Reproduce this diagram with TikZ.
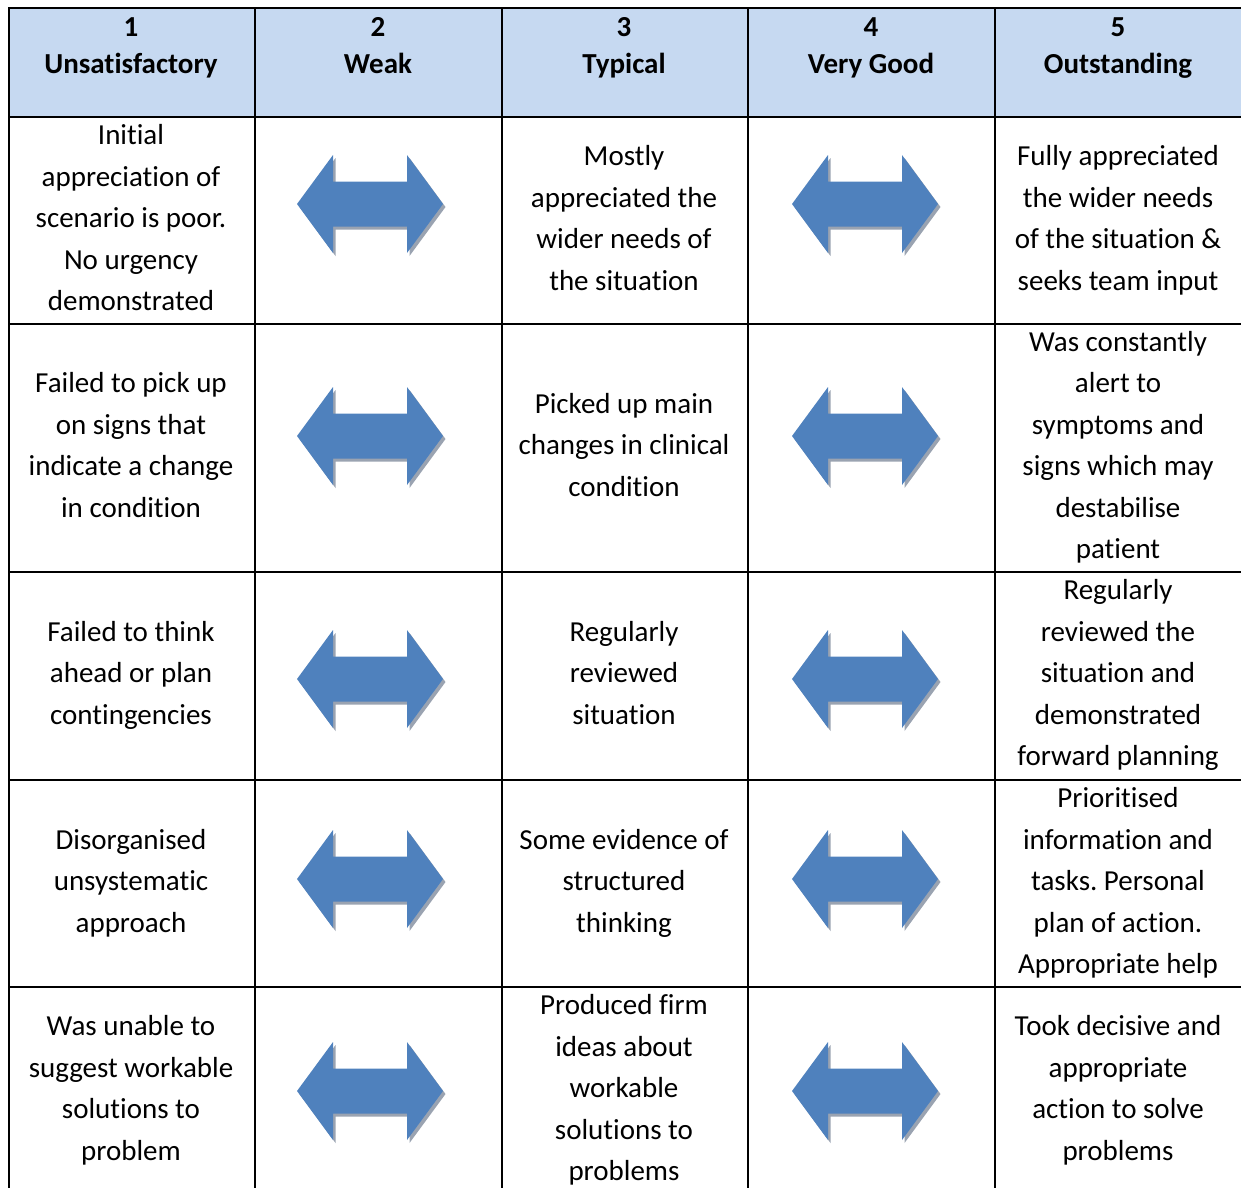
\documentclass[tikz,border=0pt]{standalone}
\usepackage{fontspec}
\setmainfont{Carlito}[Ligatures=NoCommon]
\frenchspacing
\definecolor{headblue}{HTML}{C6D9F1}
\definecolor{arrowblue}{HTML}{4F81BD}
\definecolor{arrowshade}{HTML}{9AA3B1}
\newcommand\cellfont{\fontsize{29}{41.5}\selectfont}
\newcommand\headfont{\fontsize{29}{37}\selectfont\bfseries}
\newcommand\dblarrowpath{(-73,0) -- (-37,-49) -- (-37,-22.5) -- (37,-22.5) -- (37,-49) -- (73,0) -- (37,49) -- (37,22.5) -- (-37,22.5) -- (-37,49) -- cycle}
\tikzset{
  grid line/.style={line width=1.9pt, black},
  cell/.style={align=center, font=\cellfont, text=black, inner sep=0pt,
    execute at begin node=\strut, execute at end node=\strut},
  headcell/.style={align=center, font=\headfont, text=black, inner sep=0pt,
    execute at begin node=\strut, execute at end node=\strut},
  dblarr/.pic={
    \fill[arrowshade] [shift={(2.5,3)}] \dblarrowpath;
    \fill[arrowblue] \dblarrowpath;
  }
}
\begin{document}
\begin{tikzpicture}[x=1pt,y=-1pt]
\useasboundingbox (0,0) rectangle (1241,1187);
% header background
\fill[headblue] (9,8) rectangle (1241,117);
% grid
\foreach \yy in {8,117,324,572,780,987}
  \draw[grid line] (8,\yy) -- (1245,\yy);
\foreach \xx in {9,255,502,748,995}
  \draw[grid line] (\xx,7) -- (\xx,1192);
% header
\node[headcell] (h1) at (131,51) {1\\Unsatisfactory};
\node[headcell] (h2) at (378,51) {2\\Weak};
\node[headcell] (h3) at (624,51) {3\\Typical};
\node[headcell] (h4) at (871,51) {4\\Very Good};
\node[headcell] (h5) at (1118,51) {5\\Outstanding};
% row 1
\node[cell] (r1c1) at (131,224) {Initial\\appreciation of\\scenario is poor.\\No urgency\\demonstrated};
\node[cell] (r1c3) at (624,224) {Mostly\\appreciated the\\wider needs of\\the situation};
\node[cell] (r1c5) at (1118,224) {Fully appreciated\\the wider needs\\of the situation \&\\seeks team input};
% row 2
\node[cell] (r2c1) at (131,451) {Failed to pick up\\on signs that\\indicate a change\\in condition};
\node[cell] (r2c3) at (624,451) {Picked up main\\changes in clinical\\condition};
\node[cell] (r2c5) at (1118,451) {Was constantly\\alert to\\symptoms and\\signs which may\\destabilise\\patient};
% row 3
\node[cell] (r3c1) at (131,679) {Failed to think\\ahead or plan\\contingencies};
\node[cell] (r3c3) at (624,679) {Regularly\\reviewed\\situation};
\node[cell] (r3c5) at (1118,679) {Regularly\\reviewed the\\situation and\\demonstrated\\forward planning};
% row 4
\node[cell] (r4c1) at (131,887) {Disorganised\\unsystematic\\approach};
\node[cell] (r4c3) at (624,887) {Some evidence of\\structured\\thinking};
\node[cell] (r4c5) at (1118,887) {Prioritised\\information and\\tasks. Personal\\plan of action.\\Appropriate help};
% row 5
\node[cell] (r5c1) at (131,1094) {Was unable to\\suggest workable\\solutions to\\problem};
\node[cell] (r5c3) at (624,1094) {Produced firm\\ideas about\\workable\\solutions to\\problems};
\node[cell] (r5c5) at (1118,1094) {Took decisive and\\appropriate\\action to solve\\problems};
% arrows
\foreach \yy in {204,436,679,879,1091}{
  \pic at (370,\yy) {dblarr};
  \pic at (865,\yy) {dblarr};
}
\end{tikzpicture}
\end{document}
